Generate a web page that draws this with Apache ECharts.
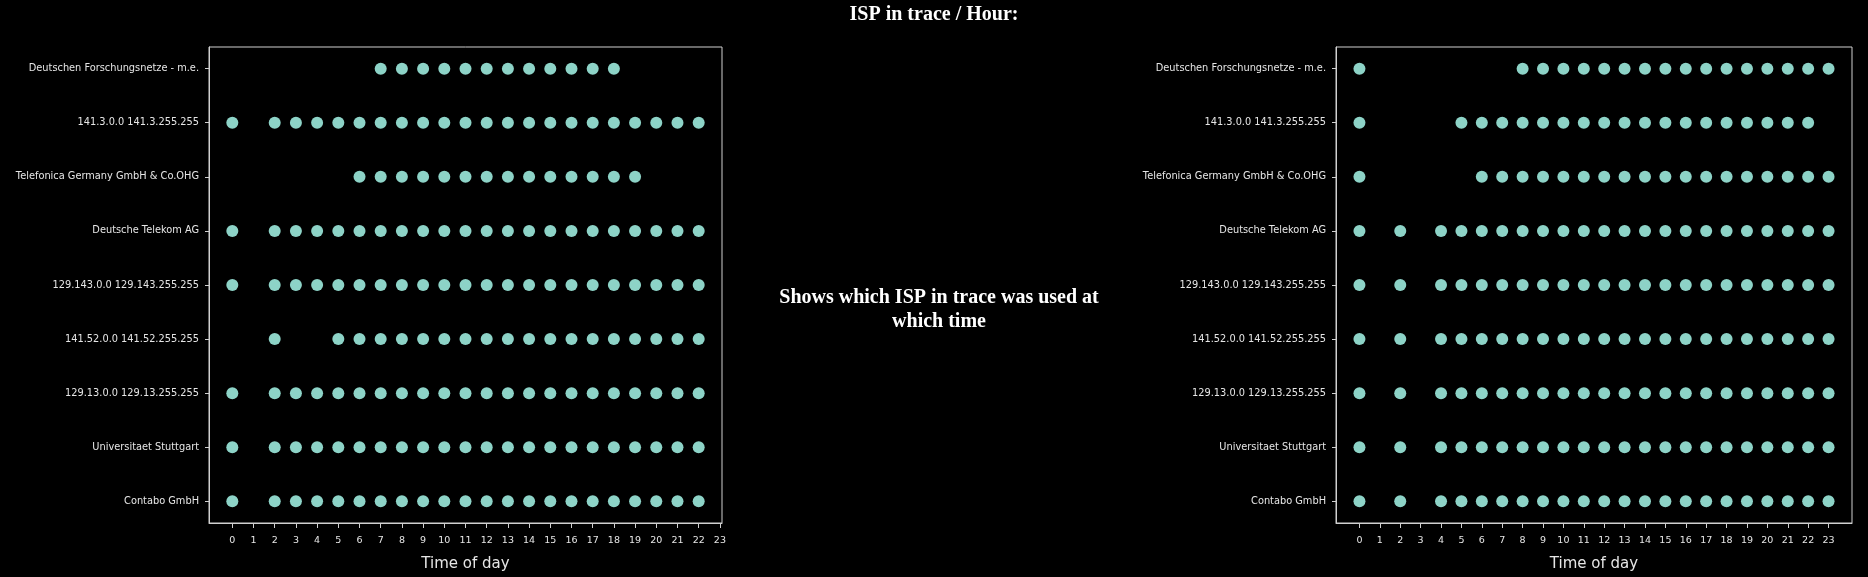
<!DOCTYPE html>
<html>
<head>
<meta charset="utf-8">
<script src="https://cdn.jsdelivr.net/npm/echarts@6/dist/echarts.min.js"></script>
<style>
html,body{margin:0;padding:0;background:#000;}
#chart{width:1868px;height:577px;}
</style>
</head>
<body>
<div id="chart"></div>
<script>
// ISP categories, bottom to top
const ispNames = [
  "Contabo GmbH",
  "Universitaet Stuttgart",
  "129.13.0.0 129.13.255.255",
  "141.52.0.0 141.52.255.255",
  "129.143.0.0 129.143.255.255",
  "Deutsche Telekom AG",
  "Telefonica Germany GmbH & Co.OHG",
  "141.3.0.0 141.3.255.255",
  "Deutschen Forschungsnetze - m.e."
];

// Hours (time of day) in which each ISP was seen — left panel
const leftHours = [
  [0,2,3,4,5,6,7,8,9,10,11,12,13,14,15,16,17,18,19,20,21,22],
  [0,2,3,4,5,6,7,8,9,10,11,12,13,14,15,16,17,18,19,20,21,22],
  [0,2,3,4,5,6,7,8,9,10,11,12,13,14,15,16,17,18,19,20,21,22],
  [2,5,6,7,8,9,10,11,12,13,14,15,16,17,18,19,20,21,22],
  [0,2,3,4,5,6,7,8,9,10,11,12,13,14,15,16,17,18,19,20,21,22],
  [0,2,3,4,5,6,7,8,9,10,11,12,13,14,15,16,17,18,19,20,21,22],
  [6,7,8,9,10,11,12,13,14,15,16,17,18,19],
  [0,2,3,4,5,6,7,8,9,10,11,12,13,14,15,16,17,18,19,20,21,22],
  [7,8,9,10,11,12,13,14,15,16,17,18]
];

// Right panel
const rightHours = [
  [0,2,4,5,6,7,8,9,10,11,12,13,14,15,16,17,18,19,20,21,22,23],
  [0,2,4,5,6,7,8,9,10,11,12,13,14,15,16,17,18,19,20,21,22,23],
  [0,2,4,5,6,7,8,9,10,11,12,13,14,15,16,17,18,19,20,21,22,23],
  [0,2,4,5,6,7,8,9,10,11,12,13,14,15,16,17,18,19,20,21,22,23],
  [0,2,4,5,6,7,8,9,10,11,12,13,14,15,16,17,18,19,20,21,22,23],
  [0,2,4,5,6,7,8,9,10,11,12,13,14,15,16,17,18,19,20,21,22,23],
  [0,6,7,8,9,10,11,12,13,14,15,16,17,18,19,20,21,22,23],
  [0,5,6,7,8,9,10,11,12,13,14,15,16,17,18,19,20,21,22],
  [0,8,9,10,11,12,13,14,15,16,17,18,19,20,21,22,23]
];

const hourTicks = [0,1,2,3,4,5,6,7,8,9,10,11,12,13,14,15,16,17,18,19,20,21,22,23];
const ispTicks = [0,1,2,3,4,5,6,7,8];

const titleText = "ISP in trace / Hour:";
const middleText = "Shows which ISP in trace was used at\nwhich time";
const xName = "Time of day";

function toPoints(hoursList) {
  const pts = [];
  hoursList.forEach((hrs, i) => hrs.forEach(h => pts.push([h, i])));
  return pts;
}

const fg = '#e6e6e6';
const frame = '#d0d0d0';
const dotColor = '#8dd3c7';

function xAxisDef(gridIndex, min, max) {
  return {
    type: 'value', gridIndex, min, max,
    name: xName, nameLocation: 'middle', nameGap: 34,
    nameTextStyle: {color: fg, fontSize: 15, fontFamily: 'DejaVu Sans'},
    axisLine: {show: true, onZero: false, lineStyle: {color: frame, width: 1}},
    axisTick: {show: true, inside: false, length: 5, customValues: hourTicks, lineStyle: {color: frame}},
    axisLabel: {show: true, customValues: hourTicks, color: fg, fontSize: 9.5, fontFamily: 'DejaVu Sans', margin: 13},
    splitLine: {show: false}
  };
}
function yAxisDef(gridIndex) {
  return {
    type: 'value', gridIndex, min: -0.4, max: 8.4,
    axisLine: {show: true, onZero: false, lineStyle: {color: frame, width: 1}},
    axisTick: {show: true, inside: false, length: 4, customValues: ispTicks, lineStyle: {color: frame}},
    axisLabel: {show: true, customValues: ispTicks, color: fg, fontSize: 9.8, fontFamily: 'DejaVu Sans', margin: 10,
      formatter: v => ispNames[Math.round(v)] || ''},
    splitLine: {show: false}
  };
}

const chart = echarts.init(document.getElementById('chart'), null, {renderer: 'canvas'});
chart.setOption({
  backgroundColor: '#000',
  animation: false,
  title: {
    text: titleText, left: 'center', top: 0,
    textStyle: {color: '#fff', fontSize: 20, fontWeight: 'bold', fontFamily: 'Liberation Serif'}
  },
  graphic: [{
    type: 'text', x: 939, y: 286,
    style: {
      text: middleText, fill: '#fff', align: 'center', verticalAlign: 'top',
      font: 'bold 20px "Liberation Serif"', lineHeight: 24
    }
  }],
  grid: [
    {left: 209, right: 1146, top: 47, bottom: 50, show: true, borderColor: frame, borderWidth: 1, backgroundColor: 'transparent'},
    {left: 1336, right: 16, top: 47, bottom: 50, show: true, borderColor: frame, borderWidth: 1, backgroundColor: 'transparent'}
  ],
  xAxis: [xAxisDef(0, -1.1, 23.1), xAxisDef(1, -1.15, 24.15)],
  yAxis: [yAxisDef(0), yAxisDef(1)],
  series: [
    {type: 'scatter', xAxisIndex: 0, yAxisIndex: 0, data: toPoints(leftHours), symbolSize: 12, itemStyle: {color: dotColor, opacity: 1}},
    {type: 'scatter', xAxisIndex: 1, yAxisIndex: 1, data: toPoints(rightHours), symbolSize: 12, itemStyle: {color: dotColor, opacity: 1}}
  ]
});
</script>
</body>
</html>
